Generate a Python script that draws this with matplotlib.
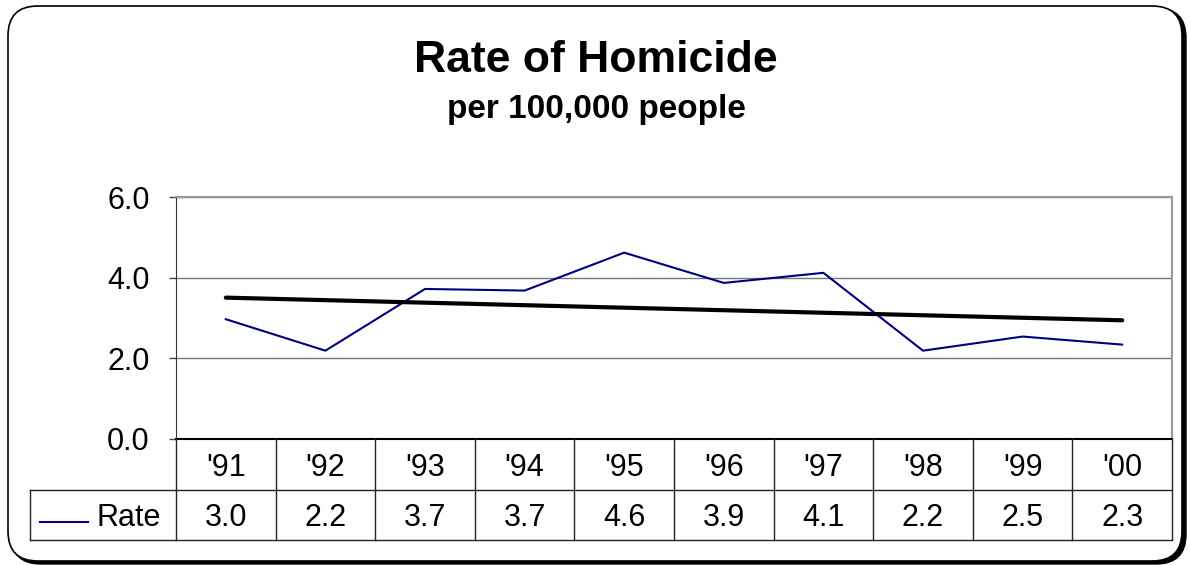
import numpy as np
import matplotlib
matplotlib.use("Agg")
import matplotlib.pyplot as plt
from matplotlib.patches import FancyBboxPatch

plt.rcParams['font.family'] = ['Liberation Sans', 'DejaVu Sans']

years = ["'91", "'92", "'93", "'94", "'95", "'96", "'97", "'98", "'99", "'00"]
rate = [2.97, 2.19, 3.72, 3.68, 4.62, 3.87, 4.12, 2.19, 2.54, 2.34]
rate_labels = ["3.0", "2.2", "3.7", "3.7", "4.6", "3.9", "4.1", "2.2", "2.5", "2.3"]
yticks = [0, 2, 4, 6]

W, H = 1190, 565
fig = plt.figure(figsize=(W / 100, H / 100), dpi=100)

# rounded frame with shadow
def fx(px): return px / W
def fy(py): return 1 - py / H

shadow = FancyBboxPatch((fx(11), fy(564)), fx(1175), 556 / H,
                        boxstyle="round,pad=0,rounding_size=0.025",
                        transform=fig.transFigure, facecolor='black',
                        edgecolor='black', mutation_aspect=W / H, zorder=-3)
frame = FancyBboxPatch((fx(8), fy(561)), fx(1174), 555 / H,
                       boxstyle="round,pad=0,rounding_size=0.025",
                       transform=fig.transFigure, facecolor='white',
                       edgecolor='black', lw=1.2, mutation_aspect=W / H, zorder=-2)
fig.patches.extend([shadow, frame])

fig.text(0.501, fy(72), "Rate of Homicide", ha='center', va='baseline',
         fontsize=32, fontweight='bold')
fig.text(0.501, fy(118), "per 100,000 people", ha='center', va='baseline',
         fontsize=24, fontweight='bold')

# plot area
L, R, T, B = 176, 1172, 197, 439
ax = fig.add_axes([fx(L), fy(B), fx(R - L), (B - T) / H])
ax.patch.set_alpha(0)
x = np.arange(1, len(rate) + 1)
ax.plot(x, rate, color='#000080', lw=1.5, zorder=3)

k, b = np.polyfit(x, rate, 1)
ax.plot(x, k * x + b, color='black', lw=3, solid_capstyle='round', zorder=4)

ax.set_xlim(0.5, len(rate) + 0.5)
ax.set_ylim(0, 6)
ax.set_yticks(yticks)
ax.set_yticklabels(["%.1f" % v for v in yticks], fontsize=22)
ax.set_xticks([])
ax.tick_params(axis='y', direction='out', length=5, width=1, color='#444444', pad=14)
ax.grid(axis='y', color='#777777', lw=1)
ax.set_axisbelow(True)
for s in ['top', 'right']:
    ax.spines[s].set_color('#999999')
    ax.spines[s].set_linewidth(1.5)
ax.spines['left'].set_color('#333333')
ax.spines['bottom'].set_color('black')
ax.spines['bottom'].set_linewidth(1.5)

# data table below plot
TB = 540
tax = fig.add_axes([fx(L), fy(TB), fx(R - L), (TB - B) / H])
tax.set_xlim(0.5, len(rate) + 0.5)
tax.set_ylim(2, 0)
tax.axis('off')
cw = (R - L) / len(rate)
lx = 0.5 - (L - 30) / cw
lc = '#222222'
for i in range(len(rate) + 1):
    tax.plot([0.5 + i, 0.5 + i], [0, 2], color=lc, lw=1, clip_on=False)
tax.plot([lx, len(rate) + 0.5], [1, 1], color=lc, lw=1, clip_on=False)
tax.plot([lx, len(rate) + 0.5], [2, 2], color=lc, lw=1, clip_on=False)
tax.plot([lx, lx], [1, 2], color=lc, lw=1, clip_on=False)
for i, (yr, lab) in enumerate(zip(years, rate_labels)):
    tax.text(i + 1, 0.74, yr, ha='center', va='baseline', fontsize=22)
    tax.text(i + 1, 1.73, lab, ha='center', va='baseline', fontsize=22)
tax.plot([lx + 0.1, lx + 0.58], [1.65, 1.65], color='#000080', lw=1.5, clip_on=False)
tax.text(0.5 - 0.15, 1.73, "Rate", ha='right', va='baseline', fontsize=22)

fig.savefig("out.png", dpi=100)
